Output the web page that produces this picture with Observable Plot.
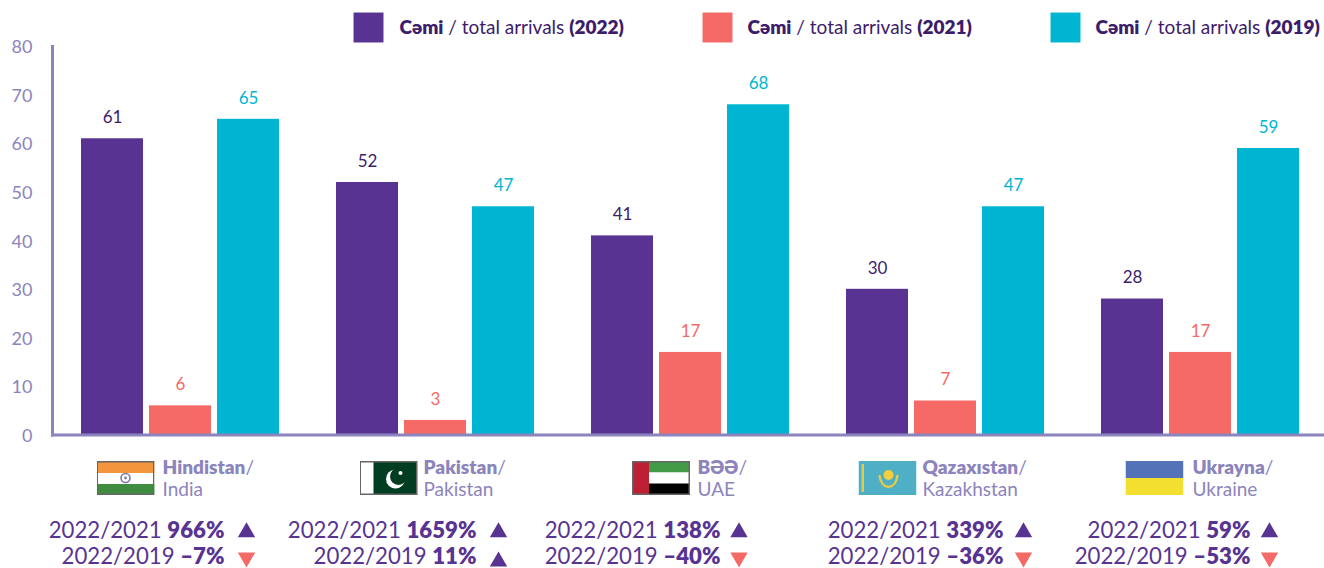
<!DOCTYPE html>
<html><head><meta charset="utf-8">
<style>html,body{margin:0;padding:0;background:#fff}svg{display:block;overflow:visible}</style>
<script src="https://cdn.jsdelivr.net/npm/d3@7"></script>
<script src="https://cdn.jsdelivr.net/npm/@observablehq/plot@0.6"></script>
</head><body><div id="chart"></div>
<script>
const countries = ["India","Pakistan","UAE","Kazakhstan","Ukraine"];
const namesAz = ["Hindistan","Pakistan","BƏƏ","Qazaxıstan","Ukrayna"];
const seriesKeys = ["2022","2021","2019"];
const arrivals2022 = [61,52,41,30,28];
const arrivals2021 = [6,3,17,7,17];
const arrivals2019 = [65,47,68,47,59];
const change2021 = ["966%","1659%","138%","339%","59%"];
const change2019 = ["-7%","11%","-40%","-36%","-53%"];

const PURPLE="#583392", CORAL="#f56a66", CYAN="#00b5d1", LAV="#8c84bd", INK="#3d1c6b";
const FONT="Lato";
const fillBy={"2022":PURPLE,"2021":CORAL,"2019":CYAN};
const labelBy={"2022":INK,"2021":CORAL,"2019":CYAN};

const svgUri=s=>"data:image/svg+xml,"+encodeURIComponent(`<svg xmlns="http://www.w3.org/2000/svg" viewBox="0 0 58 34" preserveAspectRatio="none">${s}</svg>`);
const border=`<rect x=".75" y=".75" width="56.5" height="32.5" fill="none" stroke="#666" stroke-width="1.5"/>`;
const flags=[
 svgUri(`<rect width="58" height="12" fill="#f3953d"/><rect y="12" width="58" height="11" fill="#fff"/><rect y="23" width="58" height="11" fill="#3f8b3f"/><circle cx="29" cy="17" r="4.5" fill="none" stroke="#7f78a8" stroke-width="1.6"/><circle cx="29" cy="17" r="1.4" fill="#7f78a8"/>${border}`),
 svgUri(`<rect width="58" height="34" fill="#fff"/><rect x="14" width="44" height="34" fill="#013d20"/><circle cx="36" cy="18" r="9.5" fill="#fff"/><circle cx="39" cy="15.5" r="8.5" fill="#013d20"/><circle cx="41" cy="12" r="2" fill="#fff"/>${border}`),
 svgUri(`<rect width="58" height="11.5" fill="#429b46"/><rect y="11.5" width="58" height="11" fill="#fff"/><rect y="22.5" width="58" height="11.5" fill="#000"/><rect width="17" height="34" fill="#bd2035"/>${border}`),
 svgUri(`<rect width="58" height="34" fill="#4fafc4"/><rect x="3" y="3" width="2.5" height="28" fill="#e4c94b"/><circle cx="30" cy="14" r="5" fill="#f2cf3e"/><path d="M21 14q1 11 9 12q8-1 9-12" fill="none" stroke="#e4c94b" stroke-width="2.4"/>`),
 svgUri(`<rect width="58" height="17" fill="#5372b8"/><rect y="17" width="58" height="17" fill="#f3df2f"/>`)
];

// layout offsets for the under-axis furniture, relative to each group's centre
const flagDx=[-55,-47,-29.5,-58,-46];
const nameDx=[-18,-12,7,-23,-8];
const pctDx=[44,41,30,58,50];
const triDx=[66,63,48.5,78,69];
const triUp1=[true,true,true,true,true];
const triUp2=[false,true,false,false,false];

const rows=seriesKeys.flatMap((k,s)=>countries.map((c,i)=>({country:c,series:k,value:[arrivals2022,arrivals2021,arrivals2019][s][i]})));

const base=(dx,dy,extra={})=>({fx:"country",frameAnchor:"bottom",dx,dy,fontFamily:FONT,lineAnchor:"middle",...extra});
const under=countries.flatMap((c,i)=>{
  const d=[{country:c}];
  return [
    Plot.image(d,{fx:"country",frameAnchor:"bottom",dx:flagDx[i],dy:43,width:58,height:34,src:()=>flags[i],preserveAspectRatio:"none"}),
    Plot.text(d,base(nameDx[i],32.5,{text:()=>`**${namesAz[i]}**/`,textAnchor:"start",fontSize:19,fill:LAV})),
    Plot.text(d,base(nameDx[i],54.5,{text:()=>c,textAnchor:"start",fontSize:19,fill:LAV})),
    Plot.text(d,base(pctDx[i],95.5,{text:()=>`2022/2021 **${change2021[i]}**`,textAnchor:"end",fontSize:22.2,fill:PURPLE})),
    Plot.text(d,base(pctDx[i],121.5,{text:()=>`2022/2019 **${change2019[i].replace("-","–")}**`,textAnchor:"end",fontSize:22.2,fill:PURPLE})),
    Plot.dot(d,{fx:"country",frameAnchor:"bottom",dx:triDx[i],dy:97.3,symbol:"triangle",r:6.45,stroke:null,fill:triUp1[i]?PURPLE:CORAL,rotate:triUp1[i]?0:180}),
    Plot.dot(d,{fx:"country",frameAnchor:"bottom",dx:triDx[i],dy:triUp2[i]?126.5:122.5,symbol:"triangle",r:6.45,stroke:null,fill:triUp2[i]?PURPLE:CORAL,rotate:triUp2[i]?0:180})
  ];
});
const legendDx=[287,636,984], legendTextDx=[318,666,1014];
const legend=seriesKeys.flatMap((k,i)=>[
  Plot.dot([k],{facet:"super",frameAnchor:"top-left",dx:legendDx[i],dy:-19,symbol:"square",r:16.9,stroke:null,fill:fillBy[k]}),
  Plot.text([k],{facet:"super",frameAnchor:"top-left",dx:legendTextDx[i],dy:-19,lineAnchor:"middle",textAnchor:"start",text:d=>`**Cəmi** / total arrivals **(${d})**`,fontSize:19,fill:INK,fontFamily:FONT})
]);

const chart=Plot.plot({
  width:1324,height:568,marginTop:46,marginBottom:133.5,marginLeft:52,marginRight:0,
  style:{fontFamily:FONT,background:"#fff",overflow:"visible"},
  fx:{domain:countries,range:[52.5,1327.5],paddingInner:.2235,paddingOuter:.1118,round:false,axis:null,label:null},
  x:{domain:seriesKeys,paddingInner:.088,paddingOuter:0,round:false,axis:null,label:null},
  y:{domain:[0,80],label:null,axis:null},
  marks:[
    Plot.barY(rows,{fx:"country",x:"series",y:"value",fill:d=>fillBy[d.series]}),
    Plot.text(rows,{fx:"country",x:"series",y:"value",text:"value",dy:-21,fontSize:17,lineAnchor:"middle",fill:d=>labelBy[d.series],fontFamily:FONT}),
    Plot.axisY({ticks:[0,10,20,30,40,50,60,70,80],tickSize:0,tickPadding:49,dy:1,fontSize:18,color:LAV,label:null,fontFamily:FONT}),
    Plot.frame({anchor:"left",dx:-29,stroke:LAV,strokeWidth:3,facet:"super"}),
    Plot.frame({anchor:"bottom",insetLeft:-29,insetRight:-25,stroke:LAV,strokeWidth:3,facet:"super"}),
    ...under,
    ...legend
  ]
});
// turn **bold** runs into tspans so mixed weights stay real text
d3.select(chart).selectAll("text").each(function(){
  const t=this.textContent;
  if(!t.includes("**"))return;
  const sel=d3.select(this);sel.text(null);
  t.split("**").forEach((p,i)=>{if(p)sel.append("tspan").attr("font-weight",i%2?800:400).text(p);});
});
document.getElementById("chart").append(chart);
</script></body></html>
